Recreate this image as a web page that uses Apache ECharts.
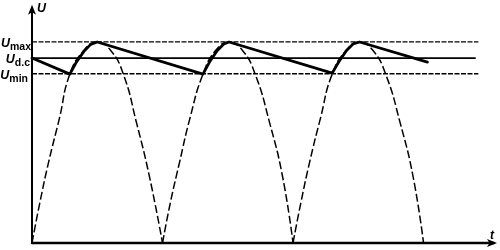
<!DOCTYPE html>
<html><head><meta charset="utf-8">
<script src="https://cdn.jsdelivr.net/npm/echarts@6/dist/echarts.min.js"></script>
<style>html,body{margin:0;padding:0;background:#fff}#c{width:500px;height:250px}</style>
</head><body><div id="c"></div>
<script>
// Rectified waveform (dashed arches), [t, U]
const arch1 = [[0,0],[0.06,0.2],[0.13,0.41],[0.21,0.62],[0.29,0.84],[0.4,0.96],[0.5,1],[0.6,0.96],[0.7,0.84],[0.8,0.6],[0.9,0.33],[1.0,0]];
const arch2 = [[1.0,0],[1.06,0.2],[1.13,0.4],[1.21,0.62],[1.31,0.84],[1.41,0.96],[1.51,1],[1.61,0.96],[1.71,0.84],[1.82,0.6],[1.92,0.33],[2.0,0]];
const arch3 = [[2.0,0],[2.06,0.2],[2.13,0.41],[2.21,0.62],[2.30,0.84],[2.41,0.96],[2.51,1],[2.61,0.96],[2.71,0.84],[2.82,0.6],[2.92,0.33],[3.0,0]];
// Smoothed output (solid thick)
const ripple = [[0,0.92],[0.29,0.84],[0.34,0.9],[0.4,0.955],[0.45,0.988],[0.5,1],
                [1.31,0.84],[1.36,0.9],[1.42,0.958],[1.47,0.99],[1.51,1],
                [2.30,0.845],[2.35,0.9],[2.41,0.958],[2.46,0.99],[2.51,1],[3.03,0.9]];
// Reference levels
const levelNames = ['max','d.c','min'];
const levelValues = [1.0, 0.92, 0.842];
const levelStart = [0, 0, 0];
const levelEnd = [3.42, 3.40, 3.42];
const levelLabelGap = [1, 2, 4];
const levelLabelDy = [-5, -2, -1];

const chart = echarts.init(document.getElementById('c'), null, {renderer:'canvas'});
const rich = {
  u:{fontFamily:'Liberation Sans', fontStyle:'italic', fontWeight:'bold', fontSize:12.5, color:'#000', verticalAlign:'bottom', lineHeight:16},
  s:{fontFamily:'Liberation Sans', fontWeight:'bold', fontSize:10.5, color:'#000', verticalAlign:'bottom', lineHeight:16, padding:[0,0,-3,0]}
};
const levelSeries = levelValues.map((v,i)=>({
  type:'line', symbol:'circle', symbolSize:0.01, showSymbol:true, silent:true, z:2, clip:false,
  itemStyle:{color:'rgba(0,0,0,0)'},
  data:[[levelStart[i], v],[levelEnd[i], v]],
  label:{show:true, position:'left', distance:levelLabelGap[i], offset:[0, levelLabelDy[i]],
    formatter:(p)=> p.dataIndex===0 ? '{u|U}{s|'+levelNames[i]+'}' : '', rich:rich},
  labelLayout:{hideOverlap:false},
  lineStyle: i===1 ? {color:'#000', width:1.8, type:'solid'} : {color:'#000', width:1.3, type:[5,1.5]}
}));
const archStyle = {color:'#000', width:1.5, type:[8,3]};
chart.setOption({
  animation:false,
  backgroundColor:'#fff',
  grid:{left:32, right:6, top:7.8, bottom:7},
  xAxis:{type:'value', min:0, max:3.54,
    name:'t', nameLocation:'end', nameGap:0,
    nameTextStyle:{fontFamily:'Liberation Sans', fontStyle:'italic', fontWeight:'bold', fontSize:12, color:'#000', align:'right', verticalAlign:'bottom', padding:[0,0,1,0]},
    axisLine:{show:true, lineStyle:{color:'#000', width:2.4}, symbol:['none','arrow'], symbolSize:[6,10], symbolOffset:[0,3]},
    axisTick:{show:false}, axisLabel:{show:false}, splitLine:{show:false}},
  yAxis:{type:'value', min:0, max:1.17,
    name:'U', nameLocation:'end', nameGap:6,
    nameTextStyle:{fontFamily:'Liberation Sans', fontStyle:'italic', fontWeight:'bold', fontSize:12.5, color:'#000', align:'left', verticalAlign:'top', padding:[0,0,0,5]},
    axisLine:{show:true, lineStyle:{color:'#000', width:2}, symbol:['none','arrow'], symbolSize:[6,10], symbolOffset:[0,3]},
    axisTick:{show:false}, splitLine:{show:false}, axisLabel:{show:false}
  },
  series:[
    ...levelSeries,
    {type:'line', symbol:'none', smooth:0.5, data:arch1, lineStyle:archStyle, z:3},
    {type:'line', symbol:'none', smooth:0.5, data:arch2, lineStyle:archStyle, z:3},
    {type:'line', symbol:'none', smooth:0.5, data:arch3, lineStyle:archStyle, z:3},
    {type:'line', symbol:'none', data:ripple, lineStyle:{color:'#000', width:2.8, join:'round', cap:'round'}, z:4}
  ]
});
</script></body></html>
